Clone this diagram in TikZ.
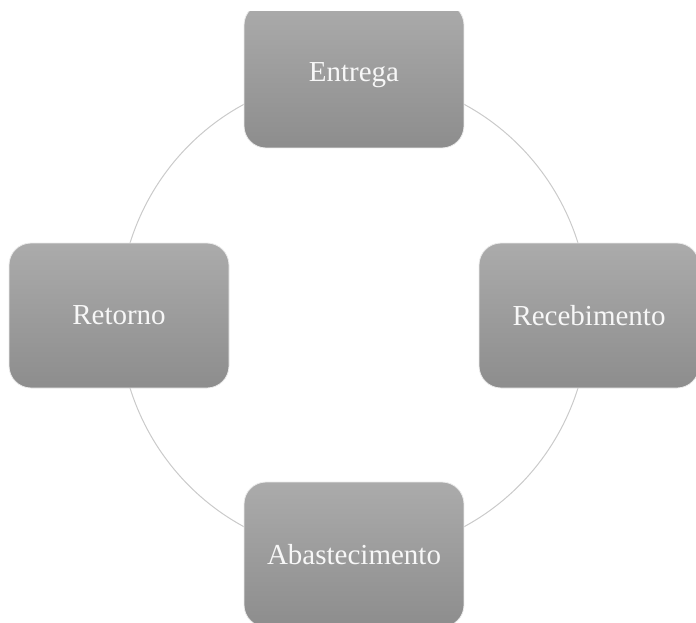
\documentclass[tikz,border=0pt]{standalone}
\usepackage{fontspec}
\setmainfont{Liberation Serif}
\begin{document}
\begin{tikzpicture}[x=1pt, y=1pt]
    % Define styles
    \tikzstyle{stage} = [draw=white!85!gray, line width=0.8pt, rounded corners=22pt, top color=boxtop, bottom color=boxbottom, minimum width=220pt, minimum height=145pt, inner sep=0pt, text=white!94!gray, font=\fontsize{29}{34}\selectfont]
    \tikzstyle{cycle} = [draw=ringgray, line width=1pt]
    \definecolor{boxtop}{HTML}{ABABAB}
    \definecolor{boxbottom}{HTML}{8D8D8D}
    \definecolor{ringgray}{HTML}{CACACA}

    \useasboundingbox (0,0) rectangle (696,-623);

    % Cycle behind the stages
    \coordinate (hub) at (354,-315.5);
    \draw[cycle] (hub) ellipse [x radius=235, y radius=239];

    % Stages (top one cut by the page edge)
    \begin{scope}
        \clip (0,-12) rectangle (696,-623);
        \node[stage] (entrega) at (354,-75.5) {Entrega};
    \end{scope}
    \node[stage] (recebimento) at (589,-315.5) {Recebimento};
    \node[stage] (abastecimento) at (354,-554.5) {Abastecimento};
    \node[stage] (retorno) at (119,-315.5) {Retorno};

\end{tikzpicture}
\end{document}
